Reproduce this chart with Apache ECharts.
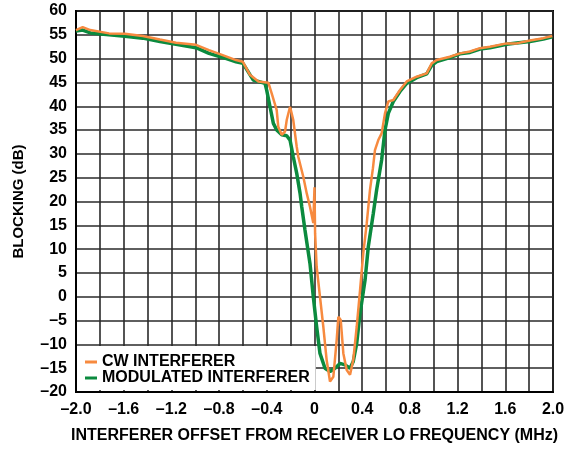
<!DOCTYPE html>
<html>
<head>
<meta charset="utf-8">
<script src="https://cdn.jsdelivr.net/npm/echarts@6/dist/echarts.min.js"></script>
<style>
html,body{margin:0;padding:0;background:#fff;}
#chart{width:577px;height:452px;}
</style>
</head>
<body>
<div id="chart"></div>
<script>
// X positions in MHz, Y in dB
var cwX = [-2.0,-1.944,-1.88,-1.723,-1.59,-1.44,-1.296,-1.161,-0.994,-0.885,-0.776,-0.658,-0.602,-0.541,-0.471,-0.387,-0.359,-0.317,-0.304,-0.275,-0.247,-0.233,-0.205,-0.178,-0.149,-0.136,-0.094,-0.065,-0.038,-0.01,0.0,0.005,0.018,0.046,0.074,0.102,0.13,0.158,0.186,0.2,0.22,0.242,0.27,0.298,0.325,0.354,0.382,0.409,0.438,0.465,0.49,0.507,0.535,0.563,0.591,0.619,0.661,0.717,0.773,0.857,0.941,0.983,1.025,1.136,1.22,1.304,1.388,1.472,1.612,1.696,1.807,1.919,1.994];
var cwY = [56.0,56.6,56.0,55.3,55.2,54.75,54.0,53.35,52.9,51.8,50.8,49.7,49.35,46.6,45.2,44.95,42.7,39.2,35.7,34.0,34.7,37.1,39.9,37.1,31.5,29.4,25.2,21.7,18.9,15.5,23.0,13.3,6.3,0.0,-6.3,-13.3,-17.8,-16.8,-9.1,-4.2,-4.9,-11.9,-15.4,-16.4,-13.3,-6.3,1.4,9.1,15.4,22.4,27.0,30.8,32.9,34.3,38.5,41.0,41.3,43.4,45.2,46.2,46.9,49.0,49.7,50.4,51.1,51.5,52.2,52.5,53.2,53.2,53.8,54.3,54.75];
var modX = [-2.0,-1.944,-1.88,-1.723,-1.59,-1.44,-1.296,-1.161,-0.994,-0.885,-0.776,-0.658,-0.6,-0.513,-0.415,-0.401,-0.373,-0.345,-0.317,-0.275,-0.233,-0.205,-0.178,-0.149,-0.121,-0.107,-0.08,-0.038,-0.01,0.018,0.046,0.088,0.13,0.172,0.214,0.256,0.298,0.325,0.354,0.382,0.424,0.451,0.493,0.521,0.563,0.591,0.619,0.661,0.717,0.773,0.857,0.941,0.983,1.025,1.136,1.22,1.304,1.388,1.472,1.612,1.696,1.807,1.919,1.994];
var modY = [55.8,56.0,55.4,55.0,54.7,54.3,53.6,53.0,52.3,51.1,50.3,49.35,49.0,45.5,44.8,43.4,39.9,36.4,35.0,34.0,33.8,32.9,29.4,25.9,21.7,18.9,14.0,7.0,0.0,-6.3,-11.9,-15.0,-15.7,-15.0,-14.0,-14.3,-15.0,-13.6,-9.8,-3.5,3.5,10.5,17.5,22.4,28.7,35.0,38.5,41.0,43.1,44.8,46.0,46.8,48.6,49.4,50.2,51.0,51.3,52.0,52.3,53.0,53.3,53.6,54.1,54.6];
var seriesNames = ['CW INTERFERER','MODULATED INTERFERER'];
var xAxisTitle = 'INTERFERER OFFSET FROM RECEIVER LO FREQUENCY (MHz)';
var yAxisTitle = 'BLOCKING (dB)';

function pairs(xs, ys){ return xs.map(function(x,i){ return [x, ys[i]]; }); }
function fmt(v, dec){
  if (Math.abs(v) < 1e-9) return '0';
  return (v < 0 ? '\u2013' : '') + Math.abs(v).toFixed(dec);
}

var FONT = '"Liberation Sans", Arial, sans-serif';
var GRIDC = '#2a2a2a';
var chart = echarts.init(document.getElementById('chart'), null, {renderer:'canvas'});
chart.setOption({
  animation:false,
  backgroundColor:'#fff',
  grid:{left:76,right:24,top:11,bottom:60,show:true,borderColor:'#000',borderWidth:2,backgroundColor:'transparent'},
  xAxis:{
    type:'value',min:-2,max:2,interval:0.4,
    axisLine:{show:true,onZero:false,lineStyle:{color:'#000',width:2}},
    axisTick:{show:false},
    splitLine:{show:true,lineStyle:{color:GRIDC,width:1.6}},
    minorTick:{show:false,splitNumber:2},
    minorSplitLine:{show:true,lineStyle:{color:GRIDC,width:1.6}},
    axisLabel:{margin:10,color:'#000',fontFamily:FONT,fontWeight:'bold',fontSize:16,
      formatter:function(v){ return fmt(v,1); }},
    name:xAxisTitle,nameLocation:'middle',nameGap:36,
    nameTextStyle:{color:'#000',fontFamily:FONT,fontWeight:'bold',fontSize:16}
  },
  yAxis:{
    type:'value',min:-20,max:60,interval:5,
    axisLine:{show:true,onZero:false,lineStyle:{color:'#000',width:2}},
    axisTick:{show:false},
    splitLine:{show:true,lineStyle:{color:GRIDC,width:1.6}},
    axisLabel:{margin:9,color:'#000',fontFamily:FONT,fontWeight:'bold',fontSize:16,
      formatter:function(v){ return fmt(v,0); }},
    name:yAxisTitle,nameLocation:'middle',nameGap:50,
    nameTextStyle:{color:'#000',fontFamily:FONT,fontWeight:'bold',fontSize:15}
  },
  legend:{
    left:77,top:346,orient:'vertical',
    backgroundColor:'#fff',padding:[8,6,4,8],itemGap:0,
    itemWidth:12,itemHeight:3,icon:'rect',
    textStyle:{color:'#000',fontFamily:FONT,fontWeight:'bold',fontSize:16,lineHeight:16},
    data:[seriesNames[0],seriesNames[1]]
  },
  series:[
    {name:seriesNames[1],type:'line',data:pairs(modX,modY),showSymbol:false,
     lineStyle:{color:'#0B8A3E',width:3.5},itemStyle:{color:'#0B8A3E'},z:2},
    {name:seriesNames[0],type:'line',data:pairs(cwX,cwY),showSymbol:false,
     lineStyle:{color:'#F78A3F',width:2.5},itemStyle:{color:'#F78A3F'},z:3}
  ]
});
</script>
</body>
</html>
